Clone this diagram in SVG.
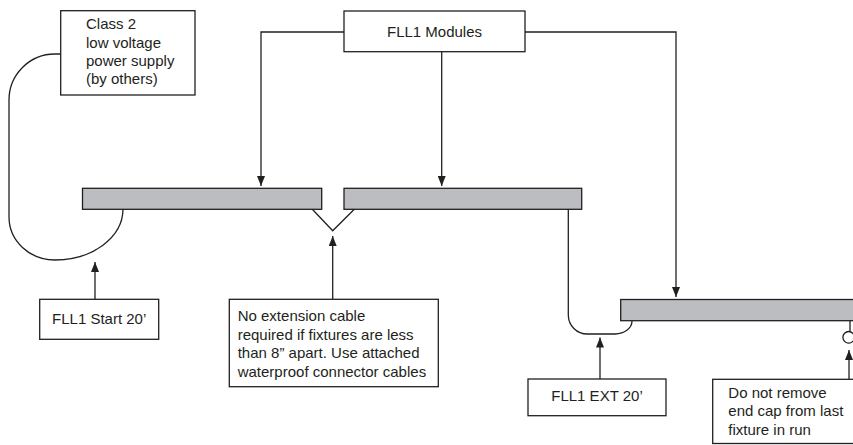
<svg xmlns="http://www.w3.org/2000/svg" width="853" height="445" viewBox="0 0 853 445">
<style>
.box{fill:#fff;stroke:#231f20;stroke-width:1.3}
.bar{fill:#bcbdc0;stroke:#231f20;stroke-width:1.3}
.ln{fill:none;stroke:#231f20;stroke-width:1.3}
.arr{fill:none;stroke:#231f20;stroke-width:1.3;marker-end:url(#ah)}
text{font-family:"Liberation Sans",Arial,sans-serif;font-size:15px;fill:#231f20}
.c{text-anchor:middle}
</style>
<defs>
<marker id="ah" viewBox="0 0 10 8" refX="10" refY="4" markerWidth="10" markerHeight="8" markerUnits="userSpaceOnUse" orient="auto">
<path d="M0,0 L10,4 L0,8 Z" fill="#231f20"/>
</marker>
</defs>
<rect width="853" height="445" fill="#fff"/>
<g id="fixtures">
<rect id="bar1" class="bar" x="82.5" y="188.3" width="239.2" height="21"/>
<rect id="bar2" class="bar" x="344" y="188.3" width="237.7" height="21"/>
<rect id="bar3" class="bar" x="620.7" y="299.5" width="245" height="21.2"/>
</g>
<g id="connectors">
<path class="ln" d="M61,54 H55 A46,46 0 0 0 9,100 V217 A46,43 0 0 0 55,260 A68,51 0 0 0 123,209.3"/>
<path class="ln" d="M312.3,209.3 L332.7,230.7 L354.3,209.3"/>
<path class="ln" d="M568.3,209.3 V315 A19,19 0 0 0 587.3,334 H615 A17,13 0 0 0 632,320.7"/>
<path class="ln" d="M850,320.7 V331.5"/>
<circle class="ln" cx="848.7" cy="337.3" r="5.8"/>
<path class="arr" d="M344,32 H261 V186"/>
<path class="arr" d="M441.7,51.7 V186"/>
<path class="arr" d="M525,32 H676 V297"/>
<path class="arr" d="M95,299.3 V262"/>
<path class="arr" d="M332.7,299.3 V236"/>
<path class="arr" d="M600,379 V337.5"/>
<path class="arr" d="M849,379.3 V350"/>
</g>
<g id="power-supply">
<rect class="box" x="60.7" y="10.7" width="134.3" height="84.3"/>
<text x="86" y="29.3">Class 2</text>
<text x="86" y="47.7">low voltage</text>
<text x="86" y="66">power supply</text>
<text x="86" y="84.3">(by others)</text>
</g>
<g id="modules">
<rect class="box" x="344" y="11" width="181" height="40.7"/>
<text class="c" x="434.5" y="37.3">FLL1 Modules</text>
</g>
<g id="start">
<rect class="box" x="39.7" y="299.3" width="119" height="40"/>
<text class="c" x="99.2" y="324.3">FLL1 Start 20’</text>
</g>
<g id="no-extension">
<rect class="box" x="229.3" y="299.3" width="209" height="87.4"/>
<text x="237.7" y="320.7">No extension cable</text>
<text x="237.7" y="339.5">required if fixtures are less</text>
<text x="237.7" y="358.3">than 8” apart. Use attached</text>
<text x="237.7" y="377.2">waterproof connector cables</text>
</g>
<g id="ext">
<rect class="box" x="528" y="379" width="138" height="36.7"/>
<text class="c" x="597" y="401">FLL1 EXT 20’</text>
</g>
<g id="end-cap">
<rect class="box" x="712.7" y="379.3" width="150" height="64.2"/>
<text x="728.3" y="397.7">Do not remove</text>
<text x="728.3" y="416.2">end cap from last</text>
<text x="728.3" y="434.8">fixture in run</text>
</g>
</svg>
